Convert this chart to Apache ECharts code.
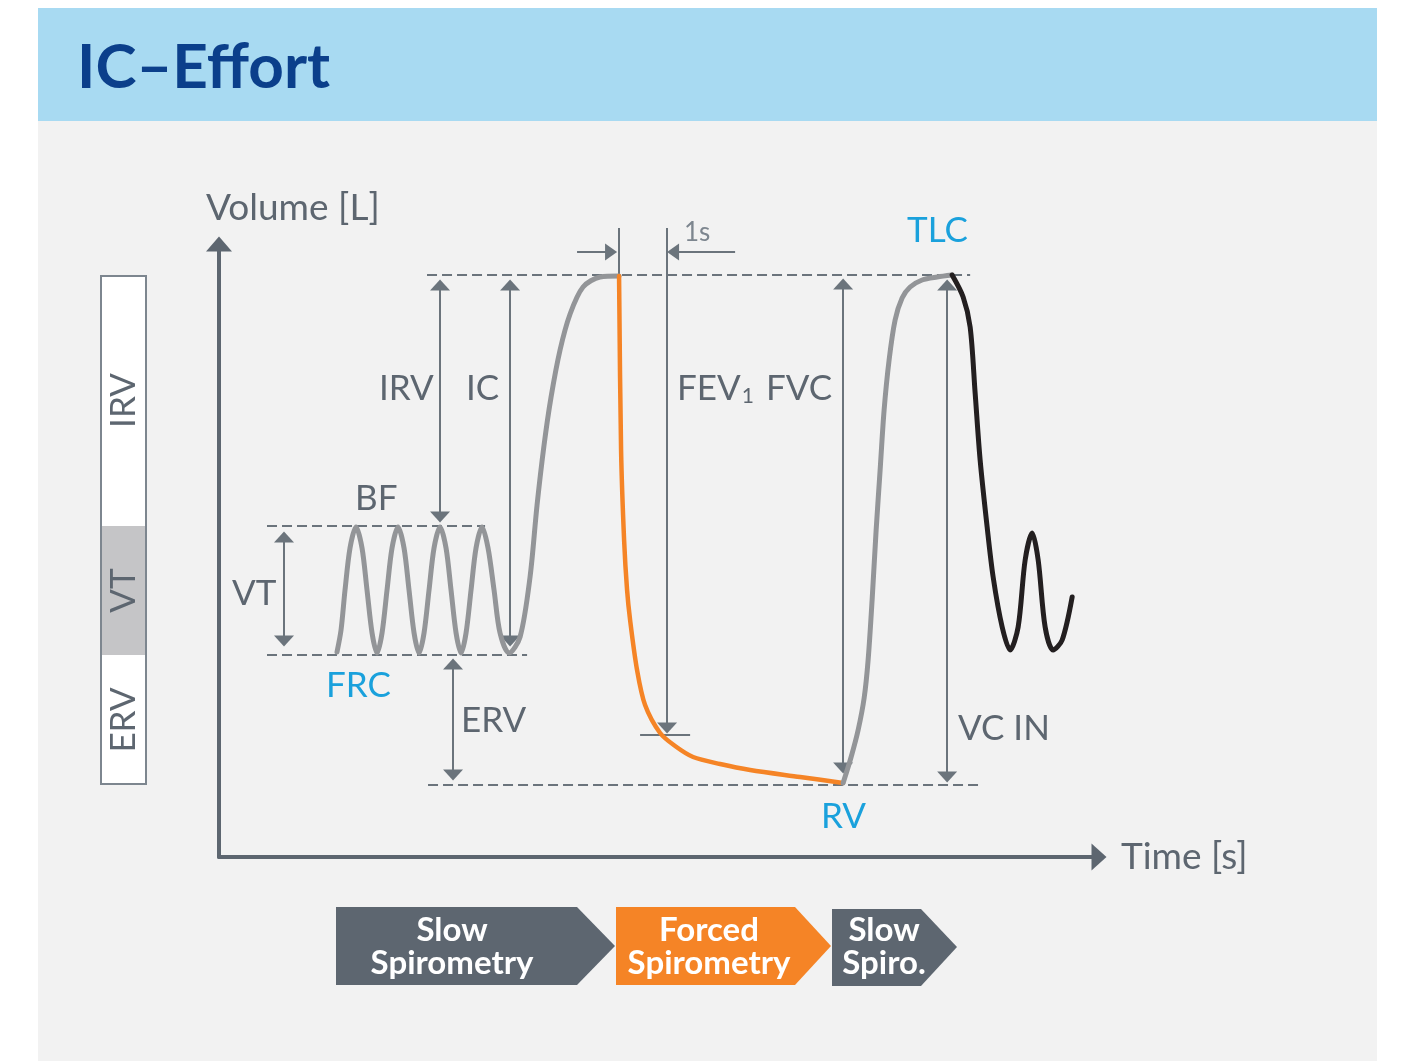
<!DOCTYPE html>
<html>
<head>
<meta charset="utf-8">
<script src="https://cdn.jsdelivr.net/npm/echarts@6/dist/echarts.min.js"></script>
<style>
  html, body { margin: 0; padding: 0; background: #fff; }
  #chart { width: 1402px; height: 1061px; }
</style>
</head>
<body>
<div id="chart"></div>
<script>
// lung volume levels [L]
var TLC = 5.82, VT_TOP = 3.31, FRC = 2.02, RV = 0.72;

// curves, [time s, volume L]
var slowBreathing = [
  [2.458, 2.05], [2.542, 2.27], [2.625, 2.67], [2.729, 3.09], [2.854, 3.30],
  [2.979, 3.09], [3.083, 2.67], [3.188, 2.24], [3.292, 2.04], [3.396, 2.24],
  [3.5, 2.67], [3.604, 3.09], [3.729, 3.30], [3.854, 3.09], [3.958, 2.67],
  [4.063, 2.24], [4.167, 2.04], [4.271, 2.24], [4.375, 2.67], [4.479, 3.09],
  [4.604, 3.30], [4.729, 3.09], [4.833, 2.67], [4.938, 2.24], [5.042, 2.04],
  [5.146, 2.24], [5.25, 2.67], [5.354, 3.09], [5.479, 3.30], [5.604, 3.09],
  [5.729, 2.67], [5.854, 2.24], [6.042, 2.04], [6.271, 2.20], [6.479, 2.80],
  [6.625, 3.52], [6.771, 4.12], [6.917, 4.60], [7.104, 5.07], [7.313, 5.43],
  [7.583, 5.70], [7.938, 5.80], [8.333, 5.81]
];
var forcedExp = [
  [8.333, 5.81], [8.375, 4.07], [8.438, 3.17], [8.5, 2.67], [8.563, 2.37],
  [8.708, 1.87], [8.875, 1.52], [9.188, 1.24], [9.5, 1.11], [9.875, 1.00],
  [10.438, 0.93], [11.063, 0.87], [12.104, 0.80], [13.0, 0.74]
];
var slowInsp = [
  [13.0, 0.74], [13.167, 1.00], [13.313, 1.27], [13.438, 1.59], [13.521, 1.97],
  [13.604, 2.57], [13.688, 3.27], [13.771, 3.87], [13.854, 4.47], [13.958, 4.97],
  [14.083, 5.37], [14.229, 5.59], [14.396, 5.70], [14.646, 5.77], [14.958, 5.80],
  [15.271, 5.82]
];
var tidalAfter = [
  [15.271, 5.82], [15.5, 5.60], [15.646, 5.30], [15.75, 4.64], [15.854, 3.97],
  [16.0, 3.30], [16.125, 2.80], [16.313, 2.30], [16.479, 2.07], [16.646, 2.30],
  [16.792, 2.97], [16.938, 3.24], [17.063, 2.97], [17.208, 2.30], [17.375, 2.07],
  [17.563, 2.17], [17.771, 2.60]
];

// dashed reference levels
var refLines = [
  [[1.0, VT_TOP], [5.542, VT_TOP]],
  [[1.0, FRC], [6.417, FRC]],
  [[4.333, TLC], [15.646, TLC]],
  [[4.354, RV], [15.813, RV]]
];
// double-headed arrows [bottom head, top head]: IRV, IC, VT, ERV, FVC, VC IN
var doubleArrows = [
  [[4.604, 3.40], [4.604, 5.72]],
  [[6.063, 2.16], [6.063, 5.72]],
  [[1.354, 2.16], [1.354, 3.20]],
  [[4.875, 0.82], [4.875, 1.93]],
  [[13.0, 0.89], [13.0, 5.73]],
  [[15.167, 0.80], [15.167, 5.72]]
];
var fev1Arrow = [[9.333, 6.29], [9.333, 1.29]];
// 1 s marker arrows [tail, head]
var oneSecRight = [[7.458, 6.05], [8.167, 6.05]];
var oneSecLeft = [[10.75, 6.05], [9.458, 6.05]];
var plainTicks = [
  [[8.333, 6.29], [8.333, TLC]],
  [[8.771, 1.22], [9.813, 1.22]]
];

// left bar
var barParts = ['ERV', 'VT', 'IRV'];
var barValues = [FRC - RV, VT_TOP - FRC, TLC - VT_TOP];
var barColors = ['#ffffff', '#c5c5c7', '#ffffff'];

var GREY_TXT = '#5d6670';
var BLUE_TXT = '#1aa1dc';
var ANNO = '#6b747c';
var FONT = 'Lato, "Noto Sans", sans-serif';

var chart = echarts.init(document.getElementById('chart'));

function lines(name, data, style) {
  return {
    type: 'lines', name: name, coordinateSystem: 'cartesian2d',
    xAxisIndex: 0, yAxisIndex: 0, clip: false, silent: true, z: 3,
    lineStyle: Object.assign({ color: ANNO, width: 2, opacity: 1 }, style),
    data: data.map(function (c) { return { coords: c }; })
  };
}

// arrow heads drawn as triangles, rotation in degrees
function heads(name, pts, rotate, size) {
  return {
    type: 'scatter', name: name, xAxisIndex: 0, yAxisIndex: 0, clip: false,
    silent: true, z: 4, data: pts, symbol: 'triangle',
    symbolSize: size || [20, 11], symbolRotate: rotate,
    itemStyle: { color: ANNO, opacity: 1 }
  };
}

function curve(name, data, color, width) {
  return {
    type: 'line', name: name, data: data, xAxisIndex: 0, yAxisIndex: 0,
    showSymbol: false, smooth: 0.3, silent: true, z: 5,
    lineStyle: { color: color, width: width, cap: 'round', join: 'round' }
  };
}

function txt(x, y, s, color, size) {
  return {
    type: 'text', x: x, y: y, z: 10,
    style: { text: s, fill: color || GREY_TXT, font: (size || 35) + 'px ' + FONT, verticalAlign: 'middle' }
  };
}

var series = [
  lines('levels', refLines, { type: [10, 5] }),
  lines('volumes', doubleArrows.concat([fev1Arrow, oneSecRight, oneSecLeft]).concat(plainTicks)),
  heads('up', doubleArrows.map(function (a) { return a[1]; }), 0),
  heads('down', doubleArrows.map(function (a) { return a[0]; }).concat([fev1Arrow[1]]), 180),
  heads('right', [oneSecRight[1]], -90, [17, 12]),
  heads('left', [oneSecLeft[1]], 90, [17, 12]),
  curve('Slow breathing', slowBreathing, '#939598', 5),
  curve('Forced expiration', forcedExp, '#f58426', 4.5),
  curve('Slow inspiration', slowInsp, '#939598', 5),
  curve('Tidal breathing', tidalAfter, '#231f20', 5),
  // left bar
  {
    type: 'bar', name: 'base', xAxisIndex: 1, yAxisIndex: 1, stack: 'seg',
    data: [RV], barWidth: 47, barGap: '-100%', silent: true,
    itemStyle: { color: 'rgba(0,0,0,0)' }
  }
];
barParts.forEach(function (p, i) {
  series.push({
    type: 'bar', name: p, xAxisIndex: 1, yAxisIndex: 1, stack: 'seg',
    data: [barValues[i]], barWidth: 47, barGap: '-100%', silent: true,
    itemStyle: { color: barColors[i] },
    label: {
      show: true, position: 'inside', rotate: 90, formatter: p,
      color: GREY_TXT, fontSize: 35, fontFamily: FONT
    }
  });
});
series.push({
  type: 'bar', name: 'boxBase', xAxisIndex: 1, yAxisIndex: 1, stack: 'box',
  data: [RV], barWidth: 47, barGap: '-100%', silent: true,
  itemStyle: { color: 'rgba(0,0,0,0)' }
});
series.push({
  type: 'bar', name: 'box', xAxisIndex: 1, yAxisIndex: 1, stack: 'box',
  data: [TLC - RV], barWidth: 47, barGap: '-100%', silent: true,
  itemStyle: { color: 'rgba(0,0,0,0)', borderColor: '#7d868f', borderWidth: 2 }
});

function chevron(pts, color, x, label) {
  return [
    { type: 'polygon', z: 1, shape: { points: pts }, style: { fill: color } },
    {
      type: 'text', x: x, y: 947, z: 10,
      style: {
        text: label, fill: '#ffffff', align: 'center', verticalAlign: 'middle',
        font: 'bold 33px ' + FONT, lineHeight: 33
      }
    }
  ];
}

var graphics = [
  { type: 'rect', z: -1, shape: { x: 38, y: 8, width: 1339, height: 113 }, style: { fill: '#a8daf2' } },
  { type: 'rect', z: -1, shape: { x: 38, y: 121, width: 1339, height: 940 }, style: { fill: '#f2f2f2' } },
  {
    type: 'text', x: 77, y: 68, z: 10,
    style: { text: 'IC\u2013Effort', fill: '#0b3f8b', font: 'bold 62px ' + FONT, verticalAlign: 'middle' }
  },
  txt(206, 208, 'Volume [L]', GREY_TXT, 37),
  txt(1121, 857, 'Time [s]', GREY_TXT, 37),
  txt(379, 389, 'IRV'),
  txt(466, 389, 'IC'),
  txt(355, 499, 'BF'),
  txt(232, 594, 'VT'),
  txt(326, 686, 'FRC', BLUE_TXT),
  txt(461, 721, 'ERV'),
  {
    type: 'text', x: 677, y: 389, z: 10,
    style: {
      text: '{a|FEV}{b|1}', verticalAlign: 'middle',
      rich: {
        a: { fontSize: 35, fontFamily: FONT, fill: GREY_TXT, color: GREY_TXT },
        b: { fontSize: 21, fontFamily: FONT, fill: GREY_TXT, color: GREY_TXT, verticalAlign: 'bottom', padding: [14, 0, 0, 1] }
      }
    }
  },
  txt(766, 389, 'FVC'),
  txt(907, 231, 'TLC', BLUE_TXT),
  txt(821, 817, 'RV', BLUE_TXT),
  txt(958, 729, 'VC IN'),
  txt(684, 233, '1s', '#7d868f', 26)
]
  .concat(chevron([[336, 907], [577, 907], [615, 946], [577, 985], [336, 985]], '#5d6670', 452, 'Slow\nSpirometry'))
  .concat(chevron([[616, 907], [795, 907], [831, 946], [795, 985], [616, 985]], '#f58426', 709, 'Forced\nSpirometry'))
  .concat(chevron([[832, 909], [921, 909], [957, 947], [921, 986], [832, 986]], '#5d6670', 884, 'Slow\nSpiro.'));

chart.setOption({
  backgroundColor: '#ffffff',
  animation: false,
  grid: [
    { left: 219, top: 244, width: 880, height: 613 },
    { left: 100, top: 244, width: 47, height: 613 }
  ],
  xAxis: [
    {
      type: 'value', gridIndex: 0, min: 0, max: 18.33,
      axisLine: { show: true, symbol: ['none', 'triangle'], symbolSize: [27, 15], lineStyle: { color: '#5d6670', width: 4 } },
      axisTick: { show: false }, axisLabel: { show: false }, splitLine: { show: false }
    },
    { type: 'category', gridIndex: 1, data: ['lung'], show: false }
  ],
  yAxis: [
    {
      type: 'value', gridIndex: 0, min: 0, max: 6.13,
      axisLine: { show: true, symbol: ['none', 'triangle'], symbolSize: [26, 15], lineStyle: { color: '#5d6670', width: 4 } },
      axisTick: { show: false }, axisLabel: { show: false }, splitLine: { show: false }
    },
    { type: 'value', gridIndex: 1, min: 0, max: 6.13, show: false }
  ],
  graphic: graphics,
  series: series
});
</script>
</body>
</html>
